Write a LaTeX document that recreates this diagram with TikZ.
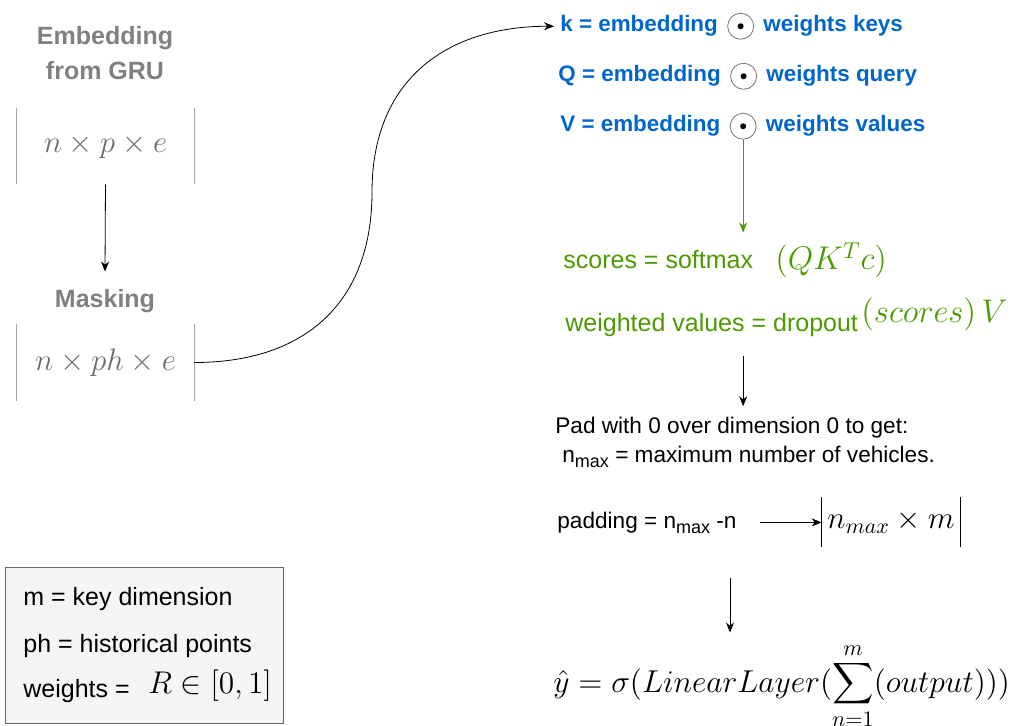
\RequirePackage{fix-cm}
\documentclass[tikz,border=0pt]{standalone}
\usepackage[no-math]{fontspec}
\setmainfont{Liberation Sans}
\usepackage{amsmath}
\usetikzlibrary{arrows.meta, positioning}
\definecolor{embgray}{HTML}{808080}
\definecolor{barline}{HTML}{A6A6A6}
\definecolor{attnblue}{HTML}{0066CC}
\definecolor{attngreen}{HTML}{4D9900}
\definecolor{legendfill}{HTML}{F5F5F5}
\definecolor{legendborder}{HTML}{666666}
\newcommand\lowmax{\raisebox{-2.5pt}{\fontsize{9}{10}\selectfont max}}

\begin{document}
\begin{tikzpicture}[x=0.5pt, y=-0.5pt,
		txt/.style={anchor=base west, inner xsep=0pt, inner ysep=2pt},
		graytitle/.style={anchor=base, inner sep=0pt, text=embgray, font=\fontsize{12.5}{15}\selectfont\bfseries},
		dimbox/.style={minimum width=88.5pt, minimum height=38pt, inner sep=0pt, text=embgray!85!black, font=\fontsize{15.5}{19}\selectfont},
		blueline/.style={txt, text=attnblue, font=\fontsize{11.2}{14}\selectfont\bfseries},
		odot/.style={circle, draw=black!55, minimum size=13pt, inner sep=0pt},
		greenline/.style={txt, text=attngreen, font=\fontsize{12.5}{15}\selectfont},
		greenmath/.style={txt, text=attngreen, font=\fontsize{16.4}{19}\selectfont},
		plain/.style={txt, font=\fontsize{11.3}{14}\selectfont},
		legendtxt/.style={txt, font=\fontsize{12.5}{15}\selectfont},
		mathtxt/.style={txt, font=\fontsize{15.8}{19}\selectfont},
		arr/.style={-{Stealth[length=5pt, width=4pt]}, black},
		greenarr/.style={-{Stealth[length=5pt, width=4pt]}, attngreen}
	]
	\useasboundingbox (0,0) rectangle (1015,726);

	% legend
	\node[draw=legendborder, fill=legendfill, minimum width=139pt, minimum height=78pt, inner sep=0pt] (legend) at (144,645) {};
	\node[legendtxt] (lm) at (23,605) {m = key dimension};
	\node[legendtxt] (lph) at (23,652) {ph = historical points};
	\node[legendtxt] (lw) at (23,697) {weights =};
	\node[mathtxt, font=\fontsize{15.7}{19}\selectfont] (lr) at (148,693) {$R \in [0,1]$};

	% input side
	\node[graytitle] (embtitle) at (105,45) {Embedding};
	\node[graytitle] (embtitle2) at (105,80) {from GRU};
	\node[dimbox] (emb) at (105.5,146) {$n \times p \times e$};
	\node[graytitle] (masktitle) at (105,308) {Masking};
	\node[dimbox] (mask) at (105.5,362.5) {$n \times ph \times e$};
	\draw[barline] (emb.north west) -- (emb.south west) (emb.north east) -- (emb.south east);
	\draw[barline] (mask.north west) -- (mask.south west) (mask.north east) -- (mask.south east);
	\draw[arr] (emb.south) -- ([yshift=9pt]masktitle.north);

	% attention
	\node[blueline] (keq) at (560,32) {k = embedding};
	\node[odot, right=4.5pt of keq] (kdot) {};
	\node[blueline, right=4.5pt of kdot] (kw) {weights keys};
	\node[blueline] (qeq) at (558,82) {Q = embedding};
	\node[odot, right=4.5pt of qeq] (qdot) {};
	\node[blueline, right=4.5pt of qdot] (qw) {weights query};
	\node[blueline] (veq) at (560,132) {V = embedding};
	\node[odot, right=4.5pt of veq] (vdot) {};
	\node[blueline, right=4.5pt of vdot] (vw) {weights values};
	\foreach \d in {kdot,qdot,vdot}
		\fill (\d) circle (1.5pt);

	\coordinate (bend) at (372,192);
	\draw[arr, shorten >=3pt] (mask.east) to[out=0, in=-90, looseness=1.15] (bend) to[out=90, in=180, looseness=1.15] (keq.west);

	\node[greenline] (scores) at (563,269) {scores = softmax};
	\node[greenmath] (smax) at (775,270) {$(QK^{T}c)$};
	\node[greenline] (wvals) at (565,332) {weighted values = dropout};
	\node[greenmath] (drop) at (861,323) {$(scores)\,V$};
	\draw[greenarr, shorten >=7pt] (vdot.south) -- (vdot.south |- scores.north);

	% padding and output
	\node[plain] (padtxt) at (555,433) {Pad with 0 over dimension 0 to get:};
	\node[plain] (nmax) at (562,462) {n\lowmax{} = maximum number of vehicles.};
	\draw[arr, shorten <=7pt, shorten >=3pt] (wvals.south -| vdot) -- (vdot |- padtxt.north);
	\node[minimum width=69pt, minimum height=25pt, inner sep=0pt, font=\fontsize{15.6}{19}\selectfont] (padbox) at (891,522) {$n_{max} \times m$};
	\node[plain] (padeq) at (557,528) {padding = n\lowmax{} -n};
	\draw (padbox.north west) -- (padbox.south west) (padbox.north east) -- (padbox.south east);
	\draw[arr, shorten <=11.5pt] (padeq.east) -- (padeq.east -| padbox.west);

	\node[mathtxt] (yhat) at (553,692) {$\displaystyle \hat{y} = \sigma(LinearLayer(\sum_{n=1}^{m}(output)))$};
	\coordinate (outtop) at (730,578);
	\draw[arr, shorten >=3pt] (outtop) -- (outtop |- yhat.north);
\end{tikzpicture}
\end{document}
